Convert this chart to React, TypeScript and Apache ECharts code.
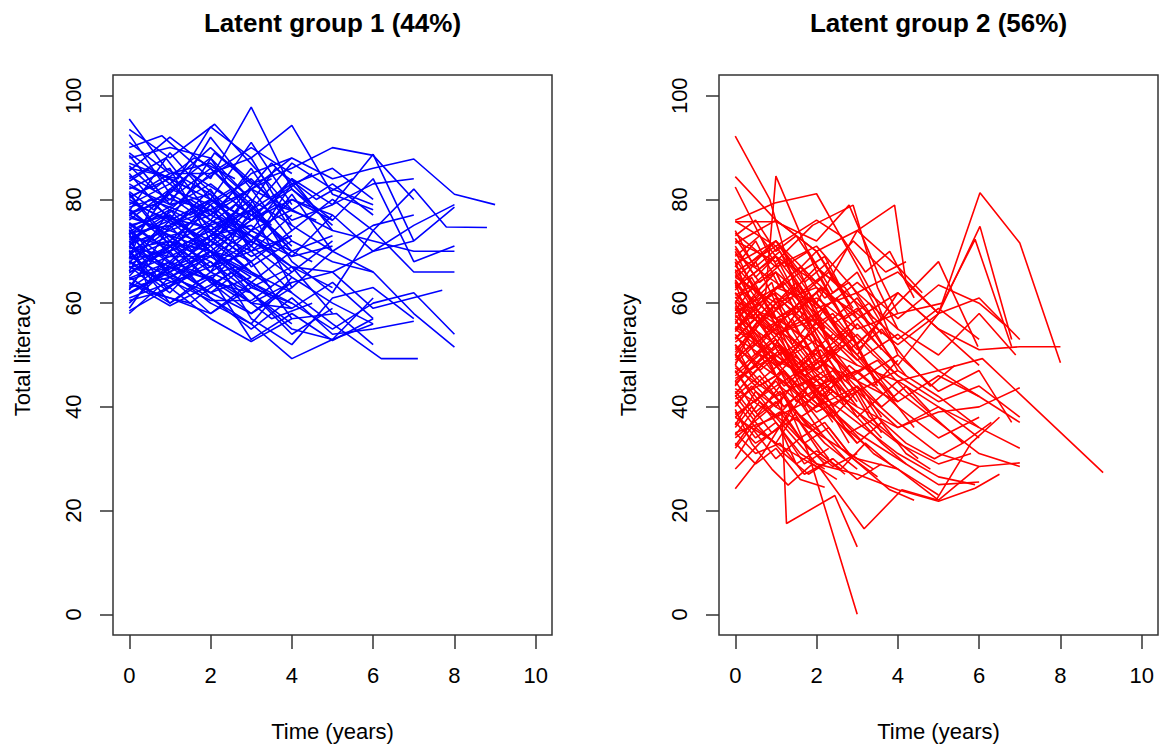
import React, { useEffect, useRef } from "react";
import * as echarts from "echarts";

const xTicks = [0, 2, 4, 6, 8, 10];
const yTicks = [0, 20, 40, 60, 80, 100];
const panelTitles = ["Latent group 1 (44%)", "Latent group 2 (56%)"];
const xAxisTitle = "Time (years)";
const yAxisTitle = "Total literacy";
const groupColors = ["#0000FF", "#FF0000"];

// Group 1 (blue) trajectories: [time, literacy]
const group1Subjects: number[][][] = [
  [[0, 95.5], [0.9, 86], [2, 81], [3, 72]],
  [[0, 93.5], [1, 88], [2.1, 94.5], [3.1, 86], [4, 78]],
  [[0, 92.5], [1.1, 80], [2, 75]],
  [[0, 90], [0.8, 92.3], [2, 84], [3, 97.8], [4, 82], [5, 76]],
  [[0, 88], [1, 90], [2, 88], [3, 80]],
  [[0, 86], [1.2, 84], [2, 94], [3, 88], [4, 94.3], [5, 81], [6, 78]],
  [[0, 85], [1, 76], [2.1, 89], [3, 83], [4, 86], [5, 90], [6, 88.5], [7, 80]],
  [[0, 84], [0.9, 88], [2, 77], [3, 85], [4, 88], [5, 84], [6, 86], [7, 87.8], [8, 81], [9, 79]],
  [[0, 83], [1, 78], [2, 85], [3, 88], [4, 75]],
  [[0, 82], [1, 86], [2, 72], [3, 79]],
  [[0, 81], [1, 71], [2, 80], [3, 74], [4, 84], [5, 79], [6, 88.7], [7, 72], [8, 78.5]],
  [[0, 80], [1.1, 75], [2, 82], [3, 70], [4, 77]],
  [[0, 79], [1, 83], [2, 76], [3, 86], [4, 74], [5, 80], [6, 74], [7, 82], [7.8, 74.7], [8.8, 74.6]],
  [[0, 78], [0.9, 72], [2, 70], [3, 76]],
  [[0, 77.5], [1, 80], [2, 86], [3, 79], [4, 70], [5, 73]],
  [[0, 77], [1, 73], [2, 67], [3, 72], [4, 80], [5, 76], [6, 84], [7, 68], [8, 71]],
  [[0, 76], [1, 82], [2, 79], [3, 67], [4, 72]],
  [[0, 75.5], [1, 70], [2, 74], [3, 80], [4, 68], [5, 62], [6, 74], [7, 66], [8, 66]],
  [[0, 75], [1, 77], [2, 71], [3, 63], [4, 60], [5, 55], [6, 60], [7, 62], [8, 54]],
  [[0, 74.5], [1.1, 79], [2, 83], [3, 77]],
  [[0, 74], [1, 68], [2, 62], [3, 68], [4, 57]],
  [[0, 73.5], [1, 75], [2, 78], [3, 71], [4, 81], [5, 70], [6, 66], [7, 58], [8, 51.5]],
  [[0, 73], [1, 66], [2, 73], [3, 66], [4, 62], [5, 56], [6.2, 49.3], [7.1, 49.3]],
  [[0, 72.5], [1, 76], [2, 69], [3, 74]],
  [[0, 72], [0.9, 63], [2, 68], [3, 60], [4, 64]],
  [[0, 71.5], [1, 74], [2, 77], [3, 82], [4, 78], [5, 83], [6, 77]],
  [[0, 71], [1, 67], [2, 72], [3, 78], [4, 70]],
  [[0, 70.5], [1, 72], [2, 66], [3, 71], [4, 65], [5, 60], [6, 56]],
  [[0, 70], [1, 60], [2, 65], [3, 53], [4, 58], [5, 52.8], [6, 57]],
  [[0, 69.5], [1, 73], [2, 75], [3, 69], [4, 73]],
  [[0, 69], [1, 65], [2, 62], [3, 65]],
  [[0, 68.5], [1, 70], [2, 79], [3, 84], [4, 76], [5, 79], [6, 83], [7, 84]],
  [[0, 68], [1, 62], [2, 70], [3, 57], [4, 52], [5, 61], [6, 63], [7, 57]],
  [[0, 67.5], [1, 71], [2, 64], [3, 62]],
  [[0, 67], [1.1, 64], [2, 60.5], [3, 60.5], [4, 66]],
  [[0, 66], [1, 69], [2, 73], [3, 75], [4, 69], [5, 71]],
  [[0, 65], [1, 60], [2, 66], [3, 62], [4, 56]],
  [[0, 64.5], [1, 67], [2, 62], [3, 58], [4, 64], [5, 66], [6, 59], [7.7, 62.5]],
  [[0, 64], [1, 59.5], [2, 63.5], [3, 68]],
  [[0, 63], [1, 65], [2, 69], [3, 64], [4, 60]],
  [[0, 62], [0.9, 66], [2, 61], [3, 55], [4, 61], [5, 54], [6, 55], [7, 56.5]],
  [[0, 61], [1, 64], [2, 67], [3, 70], [4, 73]],
  [[0, 60], [1, 67], [2, 64.5], [3, 72]],
  [[0, 58.5], [1, 63], [2, 72], [3, 68]],
  [[0, 58], [1, 65], [2, 70], [3, 65]],
  [[0, 87], [1, 84], [2, 80], [3, 76], [4, 80], [5, 77]],
  [[0, 89], [1, 83], [2, 90], [3, 83]],
  [[0, 91], [1, 85], [2, 85], [3, 90], [4, 85]],
  [[0, 84.5], [1, 80], [2, 78], [3, 82]],
  [[0, 82.5], [1, 79], [2, 81], [3, 71], [4, 83], [5, 86], [6, 80]],
  [[0, 80.5], [1, 84], [2, 74], [3, 78], [4, 87], [5, 82], [6, 79]],
  [[0, 79.5], [1, 76], [2, 80], [3, 76]],
  [[0, 78.5], [1, 81], [2, 77], [3, 73], [4, 69], [5, 77], [6, 70], [7, 72]],
  [[0, 76.5], [1, 74], [2, 71], [3, 82], [4, 72], [5, 68], [6, 66]],
  [[0, 73.8], [1, 78], [2, 74], [3, 68], [4, 74]],
  [[0, 72.8], [1, 71], [2, 76], [3, 73], [4, 66], [5, 72]],
  [[0, 71.8], [1, 77], [2, 70], [3, 64], [4, 70]],
  [[0, 70.8], [1, 69], [2, 69], [3, 77], [4, 82], [5, 75]],
  [[0, 69.8], [1, 75], [2, 80], [3, 73], [4, 67], [5, 66], [6, 70], [7, 75], [8, 79]],
  [[0, 68.8], [1, 72], [2, 68], [3, 62], [4, 55], [5, 53], [6, 61]],
  [[0, 67.8], [1, 76], [2, 72], [3, 66]],
  [[0, 66.8], [1, 70], [2, 74], [3, 70], [4, 62]],
  [[0, 65.8], [1, 71], [2, 67], [3, 74], [4, 78], [5, 74], [6, 72], [7, 70], [8, 70]],
  [[0, 64.8], [1, 68], [2, 65], [3, 60], [4, 59]],
  [[0, 63.8], [1, 61], [2, 58], [3, 63], [4, 67], [5, 58]],
  [[0, 62.8], [1, 68], [2, 75], [3, 78], [4, 71]],
  [[0, 61.8], [1, 66], [2, 70], [3, 66]],
  [[0, 76.8], [0.5, 80], [1.5, 77], [2.5, 82], [3.5, 75]],
  [[0, 75.2], [0.6, 72], [1.6, 78], [2.6, 73], [3.6, 70]],
  [[0, 74.2], [0.5, 68], [1.4, 73], [2.4, 68], [3.4, 64]],
  [[0, 73.2], [0.7, 77], [1.7, 75], [2.7, 70]],
  [[0, 72.2], [0.6, 75], [1.5, 70], [2.5, 76], [3.5, 72], [4.5, 68]],
  [[0, 71.2], [0.5, 73], [1.5, 66], [2.5, 63], [3.5, 57], [4.5, 60]],
  [[0, 70.2], [0.6, 65], [1.6, 69], [2.6, 74], [3.6, 79], [4.6, 76]],
  [[0, 69.2], [0.7, 74], [1.7, 71], [2.7, 78]],
  [[0, 67.2], [0.5, 64], [1.5, 71], [2.5, 69], [3.5, 63]],
  [[0, 81.5], [0.6, 78], [1.5, 85], [2.5, 80], [3.5, 84]],
  [[0, 83.5], [0.5, 86], [1.5, 82], [2.5, 87], [3.5, 80], [4.5, 85]],
  [[0, 86.5], [0.6, 82], [1.6, 88], [2.6, 84]],
  [[0, 78.2], [0.5, 75], [1.5, 80], [2.6, 75], [3.6, 86], [4.6, 80], [5.5, 84]],
  [[0, 77.2], [0.6, 79], [1.6, 73], [2.6, 79], [3.6, 74]],
  [[0, 65.2], [0.6, 70], [1.6, 64], [2.6, 67]],
  [[0, 60.5], [0.7, 62], [1.7, 66], [2.7, 61]],
  [[0, 80.2], [1, 85], [2, 87], [3, 80], [4, 75], [5, 70], [6, 75], [7, 77]],
  [[0, 71], [1, 66], [2, 60], [3, 56], [4, 49.3], [5, 53], [6, 56]],
  [[0, 68.2], [1, 63], [2, 57], [3, 52.6], [4, 57], [5.1, 58], [6, 52]],
  [[0, 88.5], [1, 79], [2, 92], [3, 82], [4, 88]],
  [[0, 62.5], [1, 75], [2, 66], [3, 78], [4, 63], [5, 70]],
  [[0, 59], [1, 70], [2, 61], [3, 56], [4, 65]],
  [[0, 77.8], [1, 89], [2, 80], [3, 91], [4, 79]],
  [[0, 70.8], [1, 82], [2, 88], [3, 76], [4, 84], [5, 74]],
  [[0, 66.2], [1, 78], [2, 70], [3, 62], [4, 54], [5, 59]],
  [[0, 74.8], [1, 65], [2, 58], [3, 64], [4, 59], [5, 64], [6, 57]],
  [[0, 85.5], [1, 92], [2, 86], [3, 78], [4, 83]],
  [[0, 63.2], [1, 72], [2, 79], [3, 72], [4, 67], [5, 63]],
  [[0, 81.2], [1, 72], [2, 64], [3, 58], [4, 63]],
  [[0, 68.6], [0.5, 78], [1.5, 85], [2.5, 78], [3.5, 87], [4.5, 79]],
  [[0, 73.6], [0.5, 62], [1.5, 60], [2.5, 66], [3.5, 61]],
];

// Group 2 (red) trajectories: [time, literacy]
const group2Subjects: number[][][] = [
  [[0, 92.2], [0.85, 80], [1.5, 62], [2.1, 55], [3, 48]],
  [[0, 84.4], [1, 76], [2, 70], [3, 57]],
  [[0, 82.4], [0.8, 70], [1.6, 60], [2.2, 48]],
  [[0, 55], [0.75, 62], [1.0, 84.5], [2, 66], [3, 52]],
  [[0, 76], [0.97, 79.3], [2.0, 81.1], [2.8, 70], [3.5, 60], [4, 50]],
  [[0, 75.7], [1, 75.7], [2, 72], [2.8, 78.9], [3.5, 66], [4, 58]],
  [[0, 72], [1, 68], [1.9, 75], [2.9, 78.9], [3.5, 63], [4, 55]],
  [[0, 66], [1, 71], [2, 60], [3.0, 74], [3.92, 78.9], [4.2, 64], [5, 58]],
  [[0, 50], [1, 60], [2, 47], [3, 56], [4, 48], [5, 58], [6.02, 81.3], [7, 71.6], [8, 48.5]],
  [[0, 62], [1, 54], [2, 57], [3, 50], [4, 62], [5, 55], [6, 51], [7, 51.6], [8, 51.6]],
  [[0, 45], [1.1, 52], [2, 45], [3, 38], [4, 45], [5, 47], [6.08, 49.3], [9.05, 27.3]],
  [[0, 60], [0.9, 48], [1.8, 31], [3.0, 0]],
  [[0, 52], [0.6, 47], [1.13, 42], [1.26, 17.5], [2.45, 22.9], [3.0, 13.0]],
  [[0, 24.2], [0.68, 31], [1.4, 40], [2.2, 33], [3, 28]],
  [[0, 38], [1, 33], [2.1, 28], [3.17, 16.5], [4.1, 24], [4.95, 22.1], [5.8, 33], [6.5, 38]],
  [[0, 48], [1, 40], [2, 35], [3, 30], [4, 28], [5, 22], [6, 28.5], [7, 29.2]],
  [[0, 55], [1, 49], [2, 45], [3, 40], [4, 36], [5, 39], [6, 40], [7, 43.7]],
  [[0, 58], [1, 63], [2, 60], [3, 52], [4, 60], [5, 68.0], [5.97, 51.6]],
  [[0, 65], [1, 60], [2, 63], [3, 58], [4, 52], [5, 58], [6.02, 74.8], [6.8, 53]],
  [[0, 60.2], [1, 57], [2, 61], [3, 55], [4, 58], [5.1, 60], [5.9, 72.3], [6.8, 51.6]],
  [[0, 35], [1, 38], [2, 29], [3, 27], [4, 24], [5, 21.8], [5.9, 24.3], [6.5, 27]],
  [[0, 70], [0.5, 62], [1, 66], [1.5, 58], [2, 55], [2.5, 50]],
  [[0, 68], [0.4, 60], [0.9, 64], [1.4, 52], [2, 58], [2.6, 47], [3.2, 42]],
  [[0, 67], [0.5, 72], [1.1, 63], [1.6, 66], [2.2, 55]],
  [[0, 66], [0.6, 58], [1.2, 55], [1.8, 61], [2.4, 50], [3, 45], [3.6, 38]],
  [[0, 65], [0.5, 68], [1, 60], [1.5, 63], [2, 57]],
  [[0, 64], [0.4, 55], [0.9, 59], [1.5, 48], [2.1, 52], [2.7, 44]],
  [[0, 63], [0.5, 66], [1.1, 70], [1.6, 62], [2.1, 65], [2.6, 58], [3.1, 50]],
  [[0, 62], [0.6, 56], [1.2, 49], [1.8, 54], [2.4, 45]],
  [[0, 61], [0.5, 63], [1, 57], [1.6, 60], [2.2, 51], [2.8, 55], [3.4, 46], [4, 41]],
  [[0, 60], [0.4, 65], [0.9, 58], [1.4, 61], [2, 53]],
  [[0, 59], [0.5, 52], [1, 56], [1.5, 46], [2.1, 49], [2.7, 40]],
  [[0, 58], [0.6, 62], [1.1, 54], [1.7, 58], [2.3, 50], [2.9, 53], [3.5, 44]],
  [[0, 57], [0.5, 50], [1, 53], [1.6, 44], [2.2, 47]],
  [[0, 56], [0.4, 61], [1, 66], [1.5, 58], [2, 62], [2.6, 54], [3.2, 48], [3.8, 42], [4.4, 36]],
  [[0, 55], [0.5, 58], [1.1, 50], [1.7, 53], [2.3, 45]],
  [[0, 54], [0.6, 47], [1.2, 51], [1.8, 42], [2.4, 38], [3, 43], [3.6, 35]],
  [[0, 53], [0.5, 57], [1, 61], [1.5, 55], [2, 49], [2.5, 52]],
  [[0, 52], [0.4, 46], [0.9, 50], [1.5, 41], [2.1, 44], [2.7, 36], [3.3, 32]],
  [[0, 51], [0.5, 55], [1.1, 48], [1.6, 52], [2.2, 59], [2.8, 51], [3.4, 55], [4, 47]],
  [[0, 50], [0.6, 44], [1.2, 47], [1.8, 39], [2.4, 43]],
  [[0, 49], [0.5, 53], [1, 46], [1.5, 50], [2.1, 42], [2.7, 46], [3.3, 38], [3.9, 34], [4.5, 30]],
  [[0, 48], [0.4, 55], [0.9, 51], [1.4, 57], [2, 48]],
  [[0, 47], [0.5, 41], [1, 45], [1.6, 38], [2.2, 41], [2.8, 33]],
  [[0, 46], [0.6, 50], [1.2, 44], [1.8, 48], [2.4, 40], [3, 44], [3.6, 37]],
  [[0, 45], [0.5, 39], [1.1, 43], [1.7, 36], [2.3, 30]],
  [[0, 44], [0.4, 49], [1, 53], [1.5, 47], [2, 51], [2.6, 43]],
  [[0, 43], [0.5, 38], [1, 41], [1.6, 34], [2.2, 37], [2.8, 31], [3.4, 28]],
  [[0, 42], [0.6, 46], [1.2, 40], [1.8, 44], [2.4, 37]],
  [[0, 41], [0.5, 36], [1.1, 39], [1.7, 33], [2.3, 36], [2.9, 30], [3.5, 26.5]],
  [[0, 40], [0.4, 44], [1, 38], [1.5, 42], [2.1, 35]],
  [[0, 39], [0.5, 34], [1, 37], [1.6, 31], [2.2, 28]],
  [[0, 38], [0.6, 42], [1.2, 47], [1.8, 41], [2.4, 45], [3, 38], [3.6, 33], [4.2, 29]],
  [[0, 37], [0.5, 33], [1.1, 36], [1.7, 29], [2.3, 32]],
  [[0, 36], [0.4, 40], [0.9, 35], [1.5, 38], [2.1, 31], [2.7, 27]],
  [[0, 35], [0.5, 31], [1.1, 33], [1.7, 27], [2.4, 30]],
  [[0, 34], [0.6, 38], [1.2, 42], [1.8, 36], [2.4, 39], [3, 33]],
  [[0, 33], [0.5, 29], [1, 32], [1.6, 26], [2.2, 24.5]],
  [[0, 32], [0.4, 36], [1, 30], [1.6, 34], [2.2, 29]],
  [[0, 71], [0.5, 65], [1, 69], [1.6, 60], [2.2, 63], [2.8, 55], [3.4, 50], [4, 46]],
  [[0, 69], [0.6, 73], [1.2, 67], [1.8, 70], [2.4, 62], [3, 66], [3.6, 57]],
  [[0, 72.5], [0.5, 67], [1.1, 71], [1.7, 64], [2.3, 68]],
  [[0, 74], [0.4, 68], [1, 72], [1.6, 66], [2.2, 69], [2.8, 60]],
  [[0, 73], [0.5, 76], [1, 70], [1.5, 73], [2.1, 66], [2.7, 63], [3.3, 56]],
  [[0, 68.5], [0.5, 63], [1, 57], [1.5, 52], [2, 47], [2.5, 44]],
  [[0, 66.5], [0.6, 60], [1.2, 54], [1.8, 48], [2.4, 43], [3, 39], [3.6, 34]],
  [[0, 64.5], [0.5, 59], [1.1, 53], [1.7, 46], [2.3, 41]],
  [[0, 62.5], [0.5, 68], [1, 72], [1.5, 66], [2, 70], [2.6, 63]],
  [[0, 60.5], [0.4, 57], [0.9, 62], [1.5, 58], [2.1, 63], [2.7, 57], [3.3, 60], [3.9, 52]],
  [[0, 58.5], [0.5, 64], [1.1, 68], [1.7, 62], [2.3, 66], [2.9, 59]],
  [[0, 56.5], [0.6, 52], [1.2, 57], [1.8, 62], [2.4, 56], [3, 59], [3.6, 52], [4.2, 46]],
  [[0, 54.5], [0.5, 59], [1, 63], [1.6, 67], [2.2, 61], [2.8, 64], [3.4, 57]],
  [[0, 52.5], [0.6, 56], [1.2, 60], [1.8, 55], [2.4, 58], [3, 52]],
  [[0, 50.5], [0.5, 56], [1, 60], [1.5, 64], [2, 58], [2.5, 61], [3, 55]],
  [[0, 48.5], [0.5, 52], [1.1, 57], [1.7, 53], [2.3, 57], [2.9, 50], [3.5, 45]],
  [[0, 46.5], [0.6, 51], [1.2, 55], [1.8, 50], [2.4, 54]],
  [[0, 44.5], [0.5, 48], [1, 52], [1.5, 47], [2.1, 51], [2.7, 45], [3.3, 48], [3.9, 42]],
  [[0, 42.5], [0.5, 47], [1.1, 51], [1.7, 46], [2.3, 49]],
  [[0, 40.5], [0.6, 45], [1.2, 49], [1.8, 44], [2.4, 47], [3, 41]],
  [[0, 57.5], [1, 52], [2, 47], [3, 54], [4, 46], [5, 41], [6, 44], [7, 38]],
  [[0, 63.5], [1, 57], [2, 52], [3, 48], [4, 45], [5, 40], [6, 36], [7, 32]],
  [[0, 53.5], [1, 48], [2, 53], [3, 45], [4, 50], [5, 43], [6, 47], [6.8, 37]],
  [[0, 61.5], [1, 66], [2, 59], [3, 62], [4, 55], [5, 50], [6, 58], [6.9, 50]],
  [[0, 59.5], [1, 54], [2, 58], [3, 50], [4, 43], [5, 37], [6, 31], [7, 28.5]],
  [[0, 57.2], [1, 62], [2, 56], [3, 49], [4, 54], [5, 47], [6, 42]],
  [[0, 55.5], [1, 50], [2, 44], [3, 47], [4, 40], [5, 34], [6, 38]],
  [[0, 51.5], [1, 46], [2, 40], [3, 44], [4, 37], [5, 31], [6, 28.5]],
  [[0, 49.5], [1, 55], [2, 50], [3, 43], [4, 47], [5, 42], [6, 36]],
  [[0, 47.5], [1, 42], [2, 46], [3, 39], [4, 33], [5, 29], [5.8, 31]],
  [[0, 45.5], [1, 50], [2, 43], [3, 37], [4, 31], [5, 26.5], [5.9, 25]],
  [[0, 43.5], [1, 38], [2, 42], [3, 35], [4, 30], [5, 25], [6, 25.5]],
  [[0, 41.5], [1, 46], [2, 39], [3, 43], [4, 36], [5, 40], [6, 34]],
  [[0, 67.5], [1, 72], [2, 64], [3, 57], [4, 62], [5, 55], [6, 48]],
  [[0, 65.5], [1, 59], [2, 67], [3, 60], [4, 53], [5, 59], [6, 53]],
  [[0, 73.5], [1, 67], [2, 71], [3, 62], [4, 66], [5, 58], [6, 61], [7, 53]],
  [[0, 69.5], [1, 64], [2, 58], [3, 64], [4, 57], [5, 63.5], [6, 60], [6.6, 56]],
  [[0, 71.5], [1, 76], [2, 70], [3, 74], [4, 67], [4.6, 62]],
  [[0, 75.8], [1, 71], [2, 76], [2.6, 73], [3.2, 66], [3.8, 70], [4.4, 61]],
  [[0, 36.5], [0.5, 43], [1, 40], [1.6, 46], [2.2, 42], [2.8, 48], [3.4, 44], [4, 49]],
  [[0, 34.5], [0.6, 41], [1.2, 37], [1.8, 44], [2.4, 39]],
  [[0, 32.5], [0.5, 38], [1.1, 44], [1.7, 40], [2.3, 46], [2.9, 41]],
  [[0, 30], [0.5, 36], [1, 33], [1.5, 39], [2.1, 35], [2.7, 30]],
  [[0, 28], [0.6, 33], [1.2, 37], [1.8, 32], [2.4, 28.5], [3, 31]],
  [[0, 39.5], [0.4, 33], [0.9, 28], [1.3, 24.9], [1.9, 29], [2.5, 26]],
  [[0, 46.8], [0.5, 42], [1.1, 36], [1.5, 29], [2, 31.5], [2.6, 28], [3.2, 33], [3.8, 29], [4.4, 26], [5, 23]],
  [[0, 59.2], [0.5, 54], [1, 48], [1.5, 43], [2, 38], [2.6, 32], [3.2, 28], [3.8, 24], [4.4, 22]],
  [[0, 64.2], [0.5, 58], [1, 53], [1.6, 47], [2.2, 41], [2.8, 36], [3.4, 31], [4, 28]],
  [[0, 61.2], [0.7, 55], [1.4, 58], [2.1, 52], [2.8, 46], [3.5, 49], [4.2, 43], [4.9, 38], [5.6, 33], [6.3, 37]],
  [[0, 53.2], [0.6, 58], [1.2, 53], [1.8, 47], [2.4, 51], [3, 45], [3.6, 40], [4.2, 44], [4.8, 39]],
  [[0, 50.2], [0.6, 45], [1.2, 40], [1.8, 44], [2.4, 38], [3, 33], [3.6, 37], [4.2, 31], [4.8, 28]],
  [[0, 44.2], [0.7, 50], [1.4, 45], [2.1, 40], [2.8, 35], [3.5, 38], [4.2, 33], [4.9, 30], [5.6, 33]],
  [[0, 42.2], [0.6, 36], [1.2, 31], [1.8, 27], [2.4, 30], [3, 26], [3.6, 29]],
  [[0, 67.2], [0.6, 62], [1.2, 57], [1.8, 62], [2.4, 56], [3, 51], [3.6, 55], [4.2, 49], [4.8, 44], [5.4, 48]],
  [[0, 70.5], [0.6, 64], [1.2, 68], [1.8, 61], [2.4, 57], [3, 61], [3.6, 54]],
  [[0, 57.8], [0.6, 52], [1.2, 47], [1.8, 42], [2.4, 46], [3, 40]],
  [[0, 54.8], [0.6, 60], [1.2, 64], [1.8, 58], [2.4, 53], [3, 57], [3.6, 51]],
  [[0, 38.5], [1, 44], [2, 49], [3, 45], [4, 41], [5, 46], [6, 42], [7, 37]],
  [[0, 63], [1, 69], [2, 64], [2.9, 72], [3.7, 66], [4.2, 68]],
];

const FONT = "'Liberation Sans', Arial, Helvetica, sans-serif";
const AXIS_COLOR = "#333";

export default function App() {
  const ref = useRef<HTMLDivElement>(null);

  useEffect(() => {
    document.body.style.margin = "0";
    if (!ref.current) return;
    const chart = echarts.init(ref.current, null, { renderer: "svg" });

    const gridDefs = [
      { left: 113, top: 75, width: 439, height: 560 },
      { left: 719, top: 75, width: 439, height: 560 },
    ];

    const grids = gridDefs.map((g) => ({
      ...g,
      show: true,
      borderColor: AXIS_COLOR,
      borderWidth: 1.5,
      backgroundColor: "transparent",
      containLabel: false,
    }));

    const xAxes = gridDefs.map((_, i) => ({
      gridIndex: i,
      type: "value",
      min: -0.4,
      max: 10.4,
      axisLine: { show: false, onZero: false },
      splitLine: { show: false },
      axisTick: {
        show: true,
        customValues: xTicks,
        length: 14,
        lineStyle: { color: AXIS_COLOR, width: 1.5 },
      },
      axisLabel: {
        customValues: xTicks,
        fontSize: 22,
        color: "#000",
        fontFamily: FONT,
        margin: 29,
      },
    }));

    const yAxes = gridDefs.map((_, i) => ({
      gridIndex: i,
      type: "value",
      min: -4,
      max: 104,
      axisLine: { show: false, onZero: false },
      splitLine: { show: false },
      axisTick: {
        show: true,
        customValues: yTicks,
        length: 13,
        lineStyle: { color: AXIS_COLOR, width: 1.5 },
      },
      axisLabel: {
        customValues: yTicks,
        rotate: 90,
        fontSize: 22,
        color: "#000",
        fontFamily: FONT,
        margin: 29,
      },
    }));

    const series: any[] = [];
    [group1Subjects, group2Subjects].forEach((subjects, gi) => {
      subjects.forEach((traj, si) => {
        series.push({
          type: "line",
          name: `g${gi + 1}-${si + 1}`,
          xAxisIndex: gi,
          yAxisIndex: gi,
          data: traj,
          showSymbol: false,
          symbol: "none",
          silent: true,
          lineStyle: { color: groupColors[gi], width: 1.6 },
        });
      });
    });

    const centers = gridDefs.map((g) => g.left + g.width / 2);
    const graphics: any[] = [];
    centers.forEach((cx, i) => {
      graphics.push({
        type: "text",
        x: cx,
        y: 23,
        style: {
          text: panelTitles[i],
          fontSize: 26,
          fontWeight: "bold",
          fontFamily: FONT,
          fill: "#000",
          align: "center",
          verticalAlign: "middle",
        },
      });
      graphics.push({
        type: "text",
        x: cx,
        y: 731,
        style: {
          text: xAxisTitle,
          fontSize: 22,
          fontFamily: FONT,
          fill: "#000",
          align: "center",
          verticalAlign: "middle",
        },
      });
      graphics.push({
        type: "text",
        x: gridDefs[i].left - 91,
        y: 355,
        rotation: Math.PI / 2,
        style: {
          text: yAxisTitle,
          fontSize: 22,
          fontFamily: FONT,
          fill: "#000",
          align: "center",
          verticalAlign: "middle",
        },
      });
    });

    chart.setOption({
      animation: false,
      backgroundColor: "#fff",
      grid: grids,
      xAxis: xAxes,
      yAxis: yAxes,
      series,
      graphic: graphics,
    });

    return () => chart.dispose();
  }, []);

  return <div ref={ref} style={{ width: 1169, height: 749 }} />;
}
